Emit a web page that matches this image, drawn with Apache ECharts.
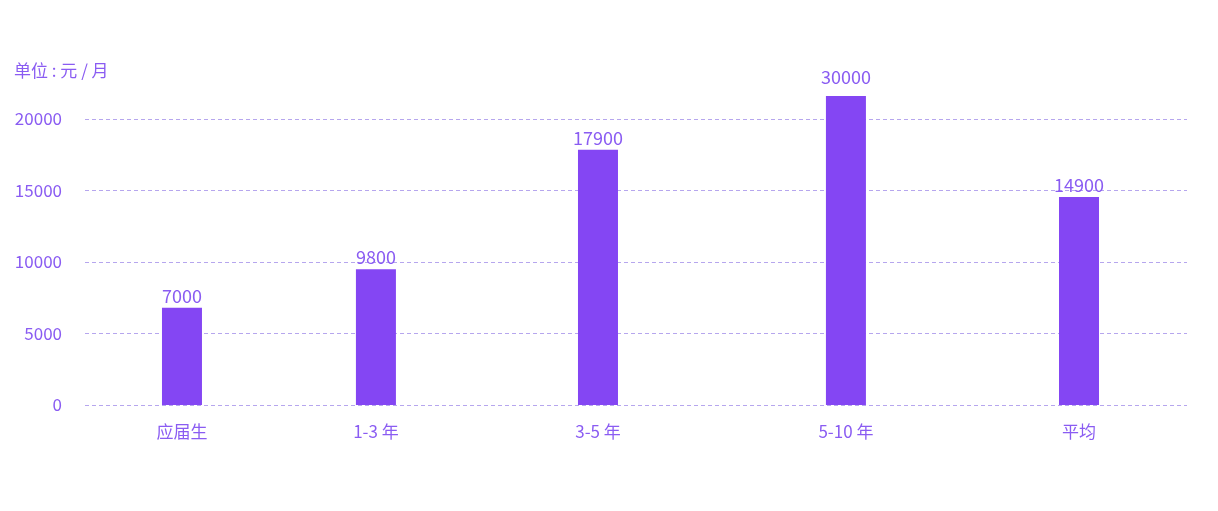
<!DOCTYPE html>
<html><head><meta charset="utf-8">
<script src="https://cdn.jsdelivr.net/npm/echarts@6/dist/echarts.min.js"></script>
<style>html,body{margin:0;padding:0;background:#fff}#c{width:1218px;height:511px}</style>
</head><body><div id="c"></div>
<script>
const categories = ['应届生', '1-3 年', '3-5 年', '5-10 年', '平均'];
const positions = [8.8, 26.4, 46.55, 69.05, 90.2];
const barValues = [6800, 9500, 17850, 21600, 14550];
const barLabels = ['7000', '9800', '17900', '30000', '14900'];
const yTicks = [0, 5000, 10000, 15000, 20000];

const txt = '#8a5cf2';
const font = '"Noto Sans CJK SC", "Noto Sans", sans-serif';
const chart = echarts.init(document.getElementById('c'), null, {renderer: 'canvas'});
chart.setOption({
  animation: false,
  title: {text: '单位 : 元 / 月', left: 9, top: 57, textStyle: {color: txt, fontSize: 17, fontWeight: 'normal', fontFamily: font}},
  grid: {left: 85, right: 31, top: 119, bottom: 106, containLabel: false},
  xAxis: {
    type: 'value', min: 0, max: 100,
    axisLine: {show: false}, axisTick: {show: false}, splitLine: {show: false},
    axisLabel: {
      customValues: positions, margin: 18, color: txt, fontSize: 17, fontFamily: font,
      formatter: v => { const i = positions.indexOf(v); return i >= 0 ? categories[i] : ''; }
    }
  },
  yAxis: {
    type: 'value', min: 0, max: 20000, interval: 5000,
    axisLine: {show: false}, axisTick: {show: false},
    axisLabel: {margin: 23, color: txt, fontSize: 17, fontFamily: font,
      customValues: yTicks, formatter: v => String(v)},
    splitLine: {show: true, lineStyle: {color: '#b6a6ee', type: [4, 3], width: 1}}
  },
  series: [{
    type: 'bar', clip: false, barWidth: 40,
    data: positions.map((p, i) => ({value: [p, barValues[i]], label: {distance: i === 3 ? 10 : 3}})),
    itemStyle: {color: '#8446f3'},
    label: {show: true, position: 'top', color: txt, fontSize: 18, fontFamily: font,
      formatter: p => barLabels[p.dataIndex]}
  }]
});
</script></body></html>
